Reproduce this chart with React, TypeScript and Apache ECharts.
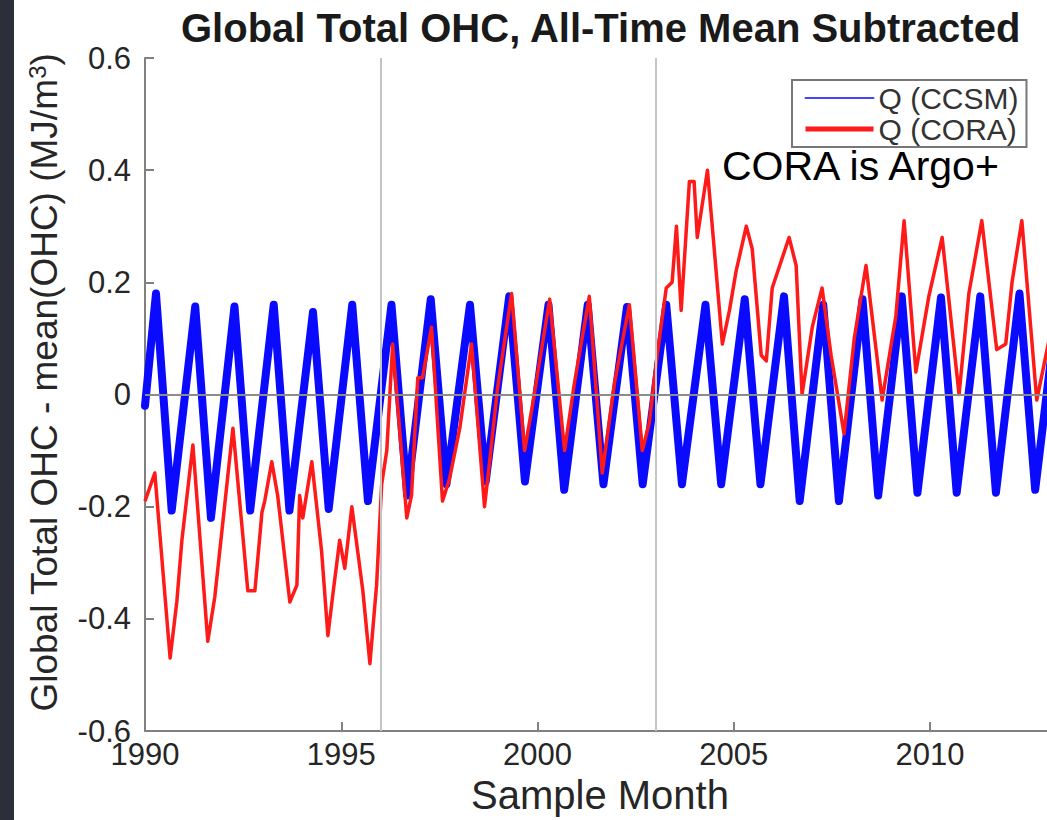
import React, { useEffect, useRef } from "react";
import * as echarts from "echarts";

// ---- data ----
const blueYears = [1990, 1991, 1992, 1993, 1994, 1995, 1996, 1997, 1998, 1999, 2000, 2001, 2002, 2003, 2004, 2005, 2006, 2007, 2008, 2009, 2010, 2011, 2012, 2013];
// Q (CCSM): seasonal maxima (~April) and minima (~September) per year
const bluePeaks = [0.18, 0.157, 0.157, 0.16, 0.147, 0.16, 0.16, 0.17, 0.16, 0.175, 0.16, 0.16, 0.156, 0.16, 0.16, 0.17, 0.175, 0.16, 0.17, 0.175, 0.173, 0.175, 0.18, 0.18];
const blueTroughs = [-0.207, -0.22, -0.207, -0.207, -0.204, -0.19, -0.18, -0.16, -0.155, -0.155, -0.17, -0.16, -0.16, -0.16, -0.16, -0.16, -0.19, -0.19, -0.18, -0.175, -0.175, -0.175, -0.17, -0.17];
const blueStart = [1990.0, -0.02];
const peakPhase = 0.28;
const troughPhase = 0.68;

// Q (CORA)
const coraYear = [1990.0, 1990.25, 1990.64, 1990.81, 1990.94, 1991.22, 1991.6, 1991.78, 1991.98, 1992.24, 1992.49, 1992.62, 1992.8, 1992.98, 1993.05, 1993.23, 1993.38, 1993.69, 1993.87, 1993.94, 1994.02, 1994.25, 1994.5, 1994.66, 1994.78, 1994.96, 1995.09, 1995.27, 1995.55, 1995.73, 1995.9, 1996.03, 1996.16, 1996.31, 1996.67, 1996.79, 1996.95, 1997.07, 1997.3, 1997.58, 1997.76, 1998.02, 1998.32, 1998.65, 1998.78, 1998.98, 1999.34, 1999.67, 1999.87, 2000.31, 2000.69, 2000.94, 2001.32, 2001.65, 2001.96, 2002.34, 2002.67, 2002.85, 2003.03, 2003.28, 2003.43, 2003.54, 2003.66, 2003.87, 2003.99, 2004.07, 2004.33, 2004.71, 2004.89, 2005.06, 2005.32, 2005.47, 2005.7, 2005.83, 2005.98, 2006.41, 2006.59, 2006.74, 2007.0, 2007.25, 2007.48, 2007.81, 2008.07, 2008.37, 2008.78, 2009.13, 2009.34, 2009.64, 2009.97, 2010.31, 2010.74, 2010.99, 2011.32, 2011.7, 2011.93, 2012.09, 2012.34, 2012.72, 2013.1];
const coraValue = [-0.19, -0.14, -0.47, -0.37, -0.26, -0.09, -0.44, -0.36, -0.23, -0.06, -0.25, -0.35, -0.35, -0.21, -0.19, -0.12, -0.18, -0.37, -0.34, -0.18, -0.22, -0.12, -0.28, -0.43, -0.36, -0.26, -0.31, -0.2, -0.35, -0.48, -0.34, -0.16, -0.1, 0.09, -0.22, -0.18, 0.03, 0.03, 0.12, -0.19, -0.15, -0.06, 0.09, -0.2, -0.12, 0.01, 0.18, -0.1, -0.02, 0.17, -0.1, 0.02, 0.175, -0.14, 0.02, 0.16, -0.1, -0.05, 0.06, 0.19, 0.2, 0.3, 0.15, 0.38, 0.38, 0.28, 0.4, 0.09, 0.15, 0.22, 0.3, 0.26, 0.07, 0.06, 0.19, 0.28, 0.23, 0.0, 0.12, 0.19, 0.07, -0.07, 0.1, 0.23, -0.01, 0.14, 0.31, 0.04, 0.175, 0.28, 0.0, 0.18, 0.31, 0.08, 0.09, 0.2, 0.31, -0.01, 0.12];

const xTicks = [1990, 1995, 2000, 2005, 2010];
const markYears = [1996, 2003];

const seriesNames = ["Q (CCSM)", "Q (CORA)"];
const titleText = "Global Total OHC, All-Time Mean Subtracted";
const xName = "Sample Month";
const noteText = "CORA is Argo+";

const FONT = "'Liberation Sans', Arial, Helvetica, sans-serif";

export default function App() {
  const ref = useRef<HTMLDivElement>(null);

  useEffect(() => {
    document.body.style.margin = "0";
    document.body.style.overflow = "hidden";
    const chart = echarts.init(ref.current!, null, { renderer: "svg" });

    const blueData: number[][] = [blueStart];
    blueYears.forEach((y, i) => {
      blueData.push([y + peakPhase, bluePeaks[i]]);
      if (i < blueTroughs.length) blueData.push([y + troughPhase, blueTroughs[i]]);
    });
    const coraData = coraYear.map((y, i) => [y, coraValue[i]]);

    chart.setOption({
      animation: false,
      backgroundColor: "#ffffff",
      title: {
        text: titleText,
        left: 176,
        top: 3,
        textStyle: { fontFamily: FONT, fontSize: 40, fontWeight: "bold", color: "#1a1a1a" },
      },
      legend: {
        orient: "vertical",
        left: 792,
        top: 80,
        itemWidth: 68,
        itemHeight: 12,
        itemGap: 1,
        padding: [3, 8, 3, 11],
        borderColor: "#777",
        borderWidth: 2,
        borderRadius: 0,
        selectedMode: false,
        textStyle: { fontFamily: FONT, fontSize: 30, lineHeight: 27, color: "#333" },
        data: [
          { name: seriesNames[0], itemStyle: { opacity: 0 }, lineStyle: { width: 2, color: "#4545ff" } },
          { name: seriesNames[1], itemStyle: { opacity: 0 }, lineStyle: { width: 5, color: "#ff1a1a" } },
        ],
      },
      grid: { left: 145, top: 58, bottom: 89, right: 2 },
      xAxis: {
        type: "value",
        min: 1990,
        max: 2014,
        interval: 5,
        name: xName,
        nameLocation: "middle",
        nameGap: 37,
        nameTextStyle: { fontFamily: FONT, fontSize: 40, color: "#262626", padding: [0, 32, 0, 0] },
        axisLine: { show: true, onZero: false, lineStyle: { color: "#808080", width: 2 } },
        axisTick: { show: true, inside: true, length: 9, lineStyle: { color: "#808080", width: 2 } },
        axisLabel: {
          fontFamily: FONT,
          fontSize: 31,
          color: "#262626",
          margin: 8,
          formatter: (v: number) => (xTicks.includes(v) ? String(v) : ""),
        },
        splitLine: { show: false },
      },
      yAxis: {
        type: "value",
        min: -0.6,
        max: 0.6,
        interval: 0.2,
        name: "{a|Global Total OHC - mean(OHC) (MJ/m}{s|3}{a|)}",
        nameLocation: "middle",
        nameGap: 82,
        nameTextStyle: {
          fontFamily: FONT,
          fontSize: 37,
          color: "#262626",
          padding: [0, 0, 0, 24],
          rich: {
            a: { fontFamily: FONT, fontSize: 37, color: "#262626" },
            s: { fontFamily: FONT, fontSize: 24, color: "#262626", verticalAlign: "top", padding: [0, 0, 14, 0] },
          },
        },
        axisLine: { show: true, lineStyle: { color: "#808080", width: 2 } },
        axisTick: { show: true, inside: true, length: 9, lineStyle: { color: "#808080", width: 2 } },
        axisLabel: {
          fontFamily: FONT,
          fontSize: 31,
          color: "#262626",
          margin: 14,
          formatter: (v: number) => {
            const r = Math.round(v * 10) / 10;
            return r === 0 ? "0" : String(r);
          },
        },
        splitLine: { show: false },
      },
      graphic: [
        { type: "rect", left: 0, top: 0, shape: { width: 14, height: 820 }, style: { fill: "#2c2e3a" }, z: 100 },
        {
          type: "text",
          left: 722,
          top: 145,
          style: { text: noteText, font: `41px ${FONT}`, fill: "#000" },
          z: 100,
        },
      ],
      series: [
        {
          type: "line",
          name: "refs",
          data: [],
          z: 1,
          silent: true,
          markLine: {
            silent: true,
            symbol: "none",
            label: { show: false },
            animation: false,
            data: [
              { yAxis: 0, lineStyle: { color: "#8c8c8c", width: 2, type: "solid" } },
              ...markYears.map((y) => ({ xAxis: y, lineStyle: { color: "#c4c4c4", width: 2, type: "solid" } })),
            ],
          },
        },
        {
          type: "line",
          name: seriesNames[0],
          data: blueData,
          symbol: "none",
          showSymbol: false,
          z: 2,
          lineStyle: { color: "#0a0aff", width: 8, join: "round", cap: "round" },
          itemStyle: { color: "#3b3bff" },
        },
        {
          type: "line",
          name: seriesNames[1],
          data: coraData,
          symbol: "none",
          showSymbol: false,
          z: 3,
          lineStyle: { color: "#ff1a1a", width: 3.5, join: "round" },
          itemStyle: { color: "#ff1a1a" },
        },
      ],
    });

    return () => chart.dispose();
  }, []);

  return <div ref={ref} style={{ width: 1090, height: 820 }} />;
}
